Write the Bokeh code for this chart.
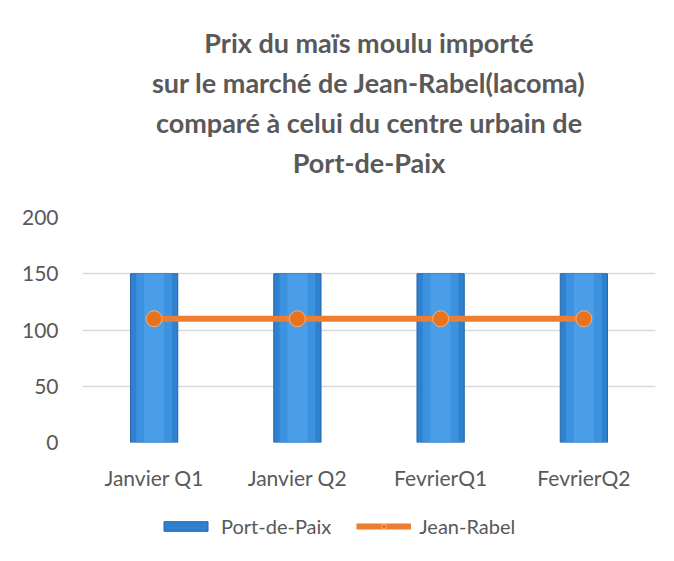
from bokeh.plotting import figure
from bokeh.layouts import column
from bokeh.models import Title, Legend, LegendItem, FixedTicker, ColumnDataSource
from bokeh.embed import file_html
from bokeh.resources import INLINE

categories = ["Janvier Q1", "Janvier Q2", "FevrierQ1", "FevrierQ2"]
port_de_paix = [150, 150, 150, 150]
jean_rabel = [110, 110, 110, 110]
title_lines = ["Prix du maïs moulu importé",
               "sur le marché de Jean-Rabel(lacoma)",
               "comparé à celui du centre urbain de",
               "Port-de-Paix"]
y_ticks = [0, 50, 100, 150, 200]

FONT = "Lato"
src = ColumnDataSource(dict(cat=categories, pdp=port_de_paix, jr=jean_rabel))


def draw_series(fig):
    b = fig.vbar(x="cat", top="pdp", width=0.33, source=src,
                 fill_color="#2F80CF", line_color="#2566A8", line_width=1)
    fig.vbar(x="cat", top="pdp", width=0.25, source=src,
             fill_color="#3D92DF", line_color=None)
    fig.vbar(x="cat", top="pdp", width=0.14, source=src,
             fill_color="#4A9DE7", line_color=None)
    ln = fig.line(x="cat", y="jr", source=src, line_color="#ED7D31", line_width=6)
    mk = fig.scatter(x="cat", y="jr", source=src, size=16, fill_color="#E8731F",
                     line_color="#F4B183", line_width=1)
    return b, ln, mk


p = figure(x_range=categories, y_range=(0, 200),
           frame_width=573, frame_height=225,
           output_backend="svg", toolbar_location=None,
           min_border_left=82, min_border_right=3, min_border_bottom=52,
           min_border_top=0)
p.outline_line_color = None
p.border_fill_color = "white"

p.add_layout(Title(text=" ", text_font_size="28px", standoff=3), "above")
for t in reversed(title_lines):
    p.add_layout(Title(text=t, align="center", text_font=FONT,
                       text_font_size="27px", text_font_style="bold",
                       text_color="#595959", standoff=5), "above")
p.add_layout(Title(text=" ", text_font_size="17px", standoff=0), "above")

draw_series(p)

p.xgrid.grid_line_color = None
p.ygrid.grid_line_color = "#D9D9D9"
p.ygrid.grid_line_width = 1.5
p.yaxis.ticker = FixedTicker(ticks=y_ticks)
for ax in (p.xaxis[0], p.yaxis[0]):
    ax.axis_line_color = None
    ax.major_tick_line_color = None
    ax.minor_tick_line_color = None
    ax.major_label_text_font = FONT
    ax.major_label_text_font_size = "21px"
    ax.major_label_text_color = "#595959"
p.xaxis.major_label_standoff = 16
p.yaxis.major_label_standoff = 18

# legend strip: same series drawn outside its visible range, legend inside its frame
lf = figure(x_range=categories, y_range=(1000, 1100), width=658, height=64,
            output_backend="svg", toolbar_location=None,
            x_axis_location=None, y_axis_location=None, min_border=0)
lf.outline_line_color = None
lf.border_fill_color = "white"
lbars, lline, lmarks = draw_series(lf)
for g in lf.grid:
    g.visible = False

legend = Legend(items=[LegendItem(label="Port-de-Paix", renderers=[lbars]),
                       LegendItem(label="Jean-Rabel", renderers=[lline, lmarks])],
                orientation="horizontal", location=(76, 20),
                label_text_font=FONT, label_text_font_size="20px",
                label_text_color="#595959", glyph_width=55, glyph_height=12,
                spacing=25, border_line_color=None, margin=0,
                background_fill_alpha=0,
                label_standoff=8, padding=4)
lf.add_layout(legend, "center")

open("out.html", "w").write(file_html(column(p, lf, spacing=0), INLINE))
